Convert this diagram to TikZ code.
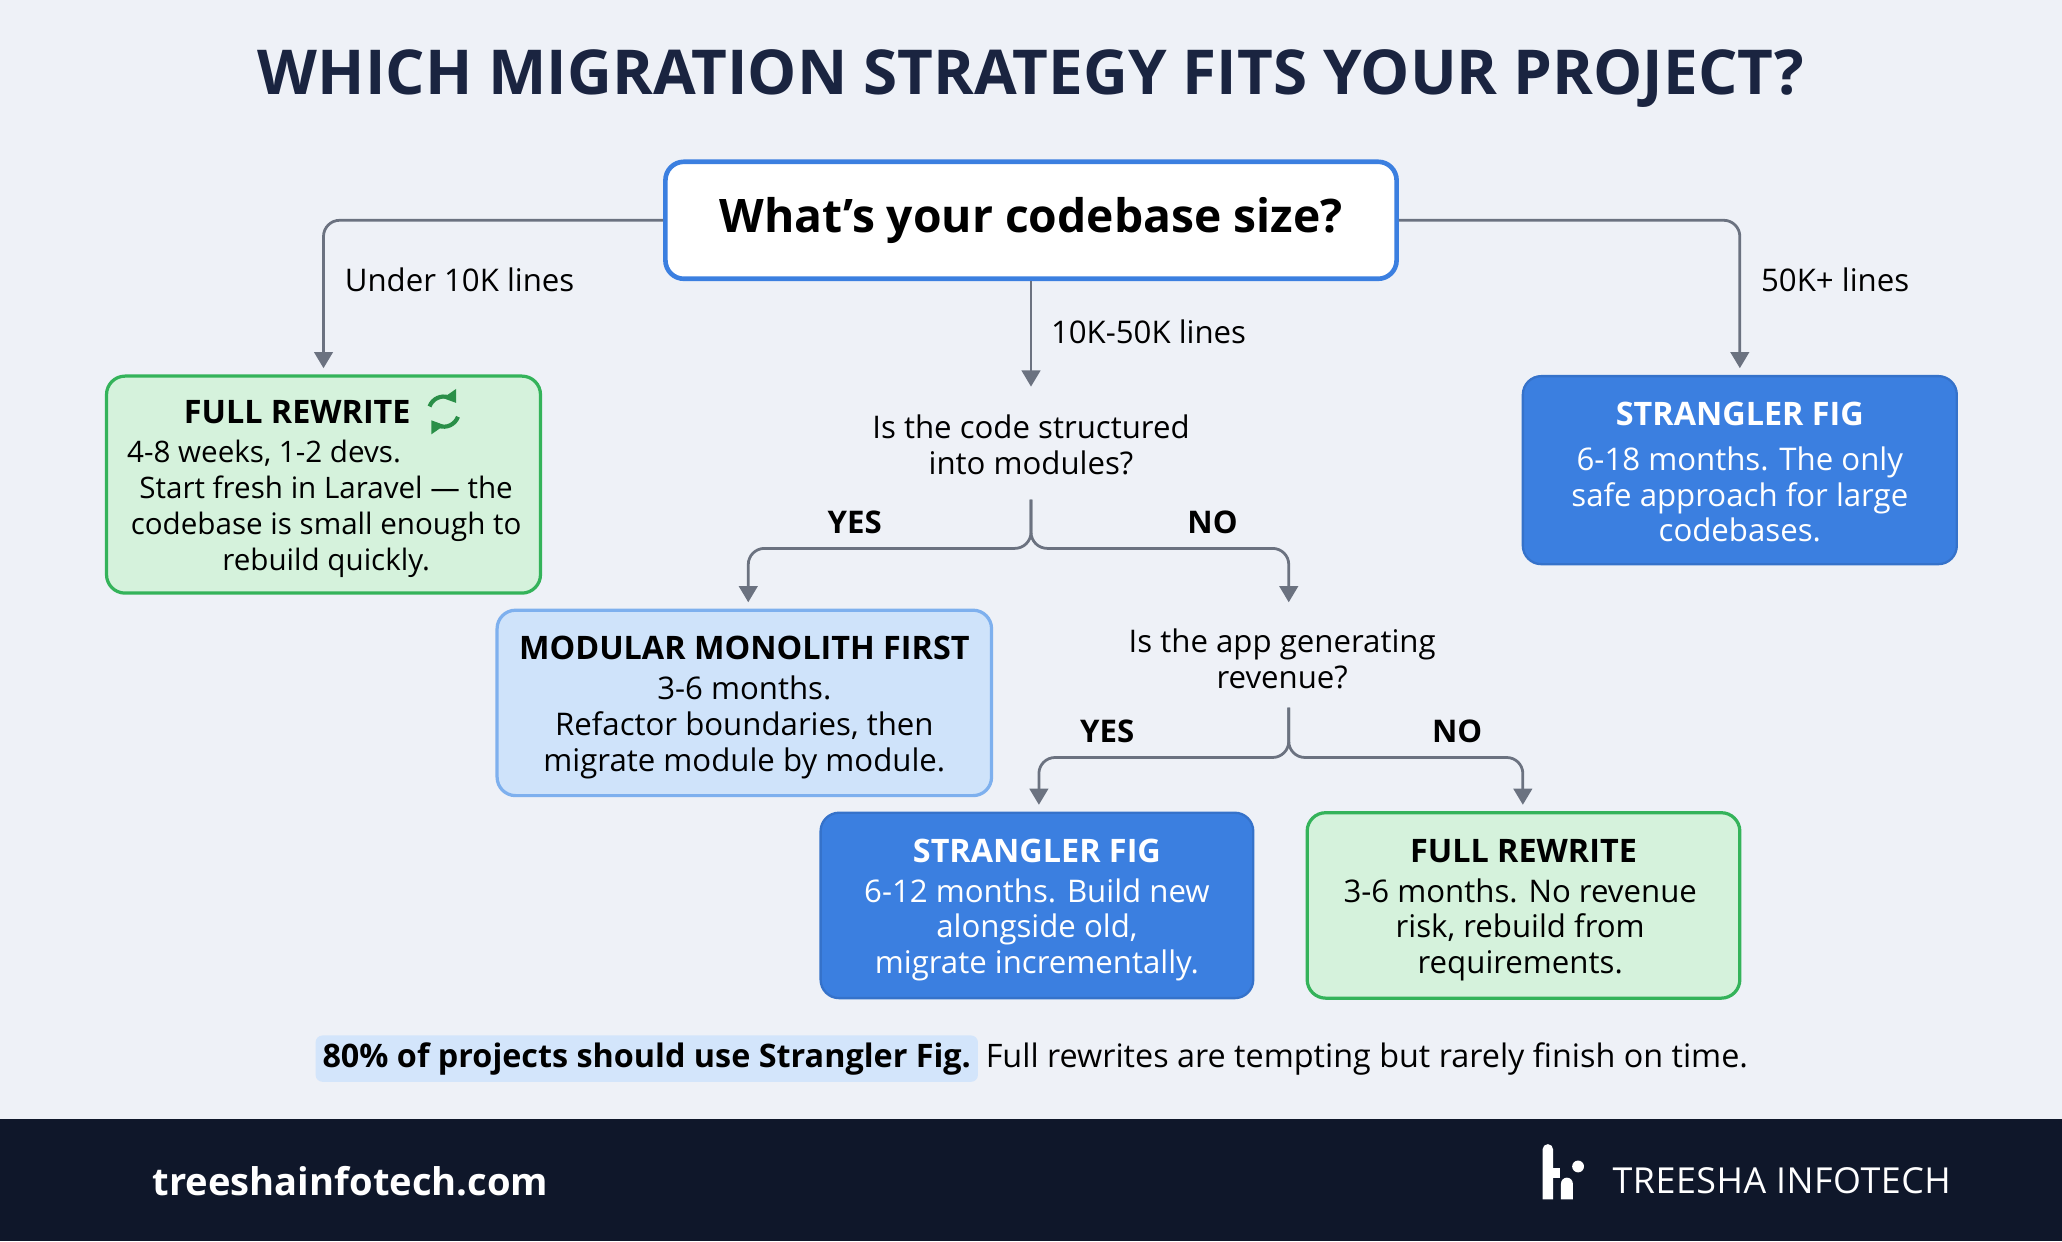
\documentclass[tikz,border=0pt]{standalone}
\usepackage{fontspec}
\setmainfont{Open Sans}
\usetikzlibrary{arrows.meta,calc}
\definecolor{bg}{HTML}{EEF1F7}
\definecolor{dark}{HTML}{0F172A}
\definecolor{ttl}{HTML}{1A2440}
\definecolor{blue}{HTML}{3B7FE0}
\definecolor{lblue}{HTML}{CFE3FA}
\definecolor{lblueb}{HTML}{7EB0EE}
\definecolor{lgreen}{HTML}{D5F2DC}
\definecolor{greenb}{HTML}{34B35A}
\definecolor{conn}{HTML}{6B7280}
\definecolor{hl}{HTML}{D3E5FB}
\tikzset{
  box/.style={rounded corners=8pt, align=center, inner sep=0pt, font=\fontsize{13.5}{15.5}\selectfont},
  greenbox/.style={box, fill=lgreen, draw=greenb, line width=1.4pt, text=black},
  bluebox/.style={box, fill=blue, draw=blue!90!black, line width=1pt, text=white},
  lbluebox/.style={box, fill=lblue, draw=lblueb, line width=1.4pt, text=black},
  conn/.style={draw=conn, line width=1.2pt, rounded corners=7pt, -{Triangle[length=7pt,width=8pt]}},
  lbl/.style={font=\fontsize{13.5}{15.5}\selectfont, text=black},
  blbl/.style={font=\fontsize{13.5}{15.5}\selectfont\bfseries, text=black},
  ttlt/.style={font=\fontsize{14}{16}\selectfont\bfseries},
  body/.style={font=\fontsize{13.5}{15.5}\selectfont, align=center},
  icon/.style={greenb!80!black, line width=1.8pt, -{Triangle[length=5pt,width=6.5pt]}},
}
\begin{document}
\begin{tikzpicture}[x=0.02cm,y=-0.02cm]
\useasboundingbox (0,0) rectangle (1568,944);
\fill[bg] (0,0) rectangle (1568,944);
\fill[dark] (0,851) rectangle (1568,944);
\node[font=\fontsize{26.8}{30}\selectfont\bfseries, text=ttl] (title) at (784,60) {WHICH MIGRATION STRATEGY FITS YOUR PROJECT?};
\node[box, fill=white, draw=blue, line width=2pt, minimum width=556*0.02cm, minimum height=89*0.02cm, font=\fontsize{20}{24}\selectfont\bfseries] (root) at (784,167.5) {What’s your codebase size?};
\node[greenbox, minimum width=330*0.02cm, minimum height=165*0.02cm] (fr1) at (246,368.5) {};
\node[ttlt] (fr1t) at (226,313) {FULL REWRITE};
\coordinate (ic) at ($(fr1t.east)+(19,0)$);
\draw[icon] ($(ic)+(-10.8,-3.9)$) arc[start angle=160,end angle=35,radius=0.23cm];
\draw[icon] ($(ic)+(10.8,3.9)$) arc[start angle=-20,end angle=-145,radius=0.23cm];
\node[body, font=\fontsize{12.8}{15.5}\selectfont] (fr1b) at (248,387) {4-8 weeks, 1-2 devs.\hspace*{4.2em}\\Start fresh in Laravel — the\\codebase is small enough to\\rebuild quickly.};
\node[bluebox, minimum width=330*0.02cm, minimum height=143*0.02cm] (sf1) at (1323,357.5) {};
\node[ttlt, text=white] (sf1t) at (1323,315) {STRANGLER FIG};
\node[body, text=white] (sf1b) at (1323,376) {6-18 months. The only\\safe approach for large\\codebases.};
\node[lbl, align=center] (q1) at (784,338) {Is the code structured\\into modules?};
\node[lbluebox, minimum width=376*0.02cm, minimum height=141*0.02cm] (mm) at (566,534.5) {};
\node[ttlt] (mmt) at (566,493) {MODULAR MONOLITH FIRST};
\node[body] (mmb) at (566,553) {3-6 months.\\Refactor boundaries, then\\migrate module by module.};
\node[lbl, align=center] (q2) at (975,501) {Is the app generating\\revenue?};
\node[bluebox, minimum width=329*0.02cm, minimum height=141*0.02cm] (sf2) at (788.5,688.5) {};
\node[ttlt, text=white] (sf2t) at (788.5,647) {STRANGLER FIG};
\node[body, text=white] (sf2b) at (788.5,707) {6-12 months. Build new\\alongside old,\\migrate incrementally.};
\node[greenbox, minimum width=329*0.02cm, minimum height=141*0.02cm] (fr2) at (1158.5,688.5) {};
\node[ttlt] (fr2t) at (1158.5,647) {FULL REWRITE};
\node[body] (fr2b) at (1156,707) {3-6 months. No revenue\\risk, rebuild from\\requirements.};
% coordinates
\coordinate (fr1in) at (246,280);
\coordinate (sf1in) at (1323,280);
\coordinate (q1in) at (784,294);
\coordinate (q1out) at (784,380);
\coordinate (j1) at (784,417);
\coordinate (mmin) at (569,458);
\coordinate (q2in) at (980,458);
\coordinate (q2out) at (980,538);
\coordinate (j2) at (980,576);
\coordinate (sf2in) at (790,612);
\coordinate (fr2in) at (1158,612);
% connectors
\draw[conn] (root.west) -| (fr1in);
\draw[conn] (root.east) -| (sf1in);
\draw[conn] (root.south) -- (q1in);
\draw[conn] (q1out) -- (j1) -| (mmin);
\draw[conn] (q1out) -- (j1) -| (q2in);
\draw[conn] (q2out) -- (j2) -| (sf2in);
\draw[conn] (q2out) -- (j2) -| (fr2in);
% labels
\node[lbl, anchor=west] (l1) at (256,213) {Under 10K lines};
\node[lbl, anchor=west] (l2) at (1333,213) {50K+ lines};
\node[lbl, anchor=west] (l3) at (793,252) {10K-50K lines};
\node[blbl] (y1) at (650,397) {YES};
\node[blbl] (n1) at (922,397) {NO};
\node[blbl] (y2) at (842,556) {YES};
\node[blbl] (n2) at (1108,556) {NO};
% bottom note
\node[lbl, anchor=east, fill=hl, rounded corners=3pt, inner sep=3pt, font=\fontsize{14}{16}\selectfont\bfseries] (note1) at (744,805) {80\% of projects should use Strangler Fig.};
\node[lbl, anchor=west, inner sep=3pt, font=\fontsize{14}{16}\selectfont] (note2) at (note1.east) {Full rewrites are tempting but rarely finish on time.};
% footer
\node[anchor=west, text=white, font=\fontsize{16.5}{18}\selectfont\bfseries] (url) at (110,898) {treeshainfotech.com};
\fill[white] (1173,912) -- (1173,874) arc[start angle=180,end angle=0,radius=0.08cm] -- (1181,912) -- cycle;
\fill[white] (1181,888) rectangle (1186,896);
\fill[white] (1187,912) -- (1187,900) arc[start angle=180,end angle=0,radius=0.09cm] -- (1196,912) -- cycle;
\fill[white] (1200,887) circle[radius=0.09cm];
\node[anchor=west, text=white, font=\fontsize{15.5}{18}\selectfont\addfontfeature{LetterSpace=1.5}] (brand) at (1220,898) {TREESHA INFOTECH};
\end{tikzpicture}
\end{document}
